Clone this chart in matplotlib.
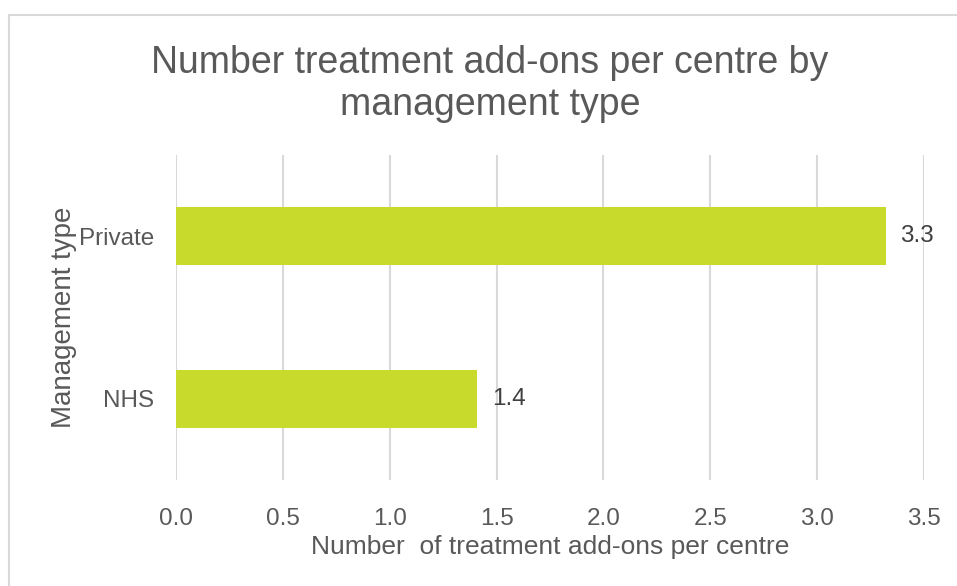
import matplotlib.pyplot as plt
from matplotlib.patches import Rectangle

categories = ['NHS', 'Private']
values = [1.41, 3.32]
value_labels = ['1.4', '3.3']
xticks = [0.0, 0.5, 1.0, 1.5, 2.0, 2.5, 3.0, 3.5]

plt.rcParams['font.family'] = ['Liberation Sans', 'DejaVu Sans']
text_col = '#595959'

fig = plt.figure(figsize=(9.57, 5.86), dpi=100)
ax = fig.add_axes([176 / 957, 1 - 480 / 586, (924 - 176) / 957, (480 - 155) / 586])

# chart frame
fig.patches.append(Rectangle((9 / 957, -0.01), 1.0, 1 - 15 / 586 + 0.01, transform=fig.transFigure,
                             fill=False, edgecolor='#D9D9D9', linewidth=1.5))

ypos = range(len(categories))
ax.barh(ypos, values, height=0.36, color='#C8DA2B', zorder=3)
for y, v, lab in zip(ypos, values, value_labels):
    ax.text(v + 0.07, y, lab, va='center', ha='left', fontsize=17.5, color='#404040', zorder=4)

ax.set_xlim(0, 3.5)
ax.set_ylim(-0.5, 1.5)
ax.set_xticks(xticks)
ax.set_xticklabels([f'{t:.1f}' for t in xticks])
ax.set_yticks(list(ypos))
ax.set_yticklabels(categories)
ax.tick_params(axis='both', length=0, labelsize=17.5, labelcolor=text_col)
ax.tick_params(axis='x', pad=20)
ax.tick_params(axis='y', pad=16)
ax.grid(axis='x', color='#D9D9D9', linewidth=1.5, zorder=0)
for s in ax.spines.values():
    s.set_visible(False)

ax.set_xlabel('Number  of treatment add-ons per centre', fontsize=19, color=text_col, labelpad=4)
ax.set_ylabel('Management type', fontsize=20, color=text_col, labelpad=1)
fig.text(490 / 957, 1 - 84 / 586, 'Number treatment add-ons per centre by\nmanagement type',
         ha='center', va='center', fontsize=27, color=text_col, linespacing=1.2)

fig.savefig('out.png', dpi=100)
